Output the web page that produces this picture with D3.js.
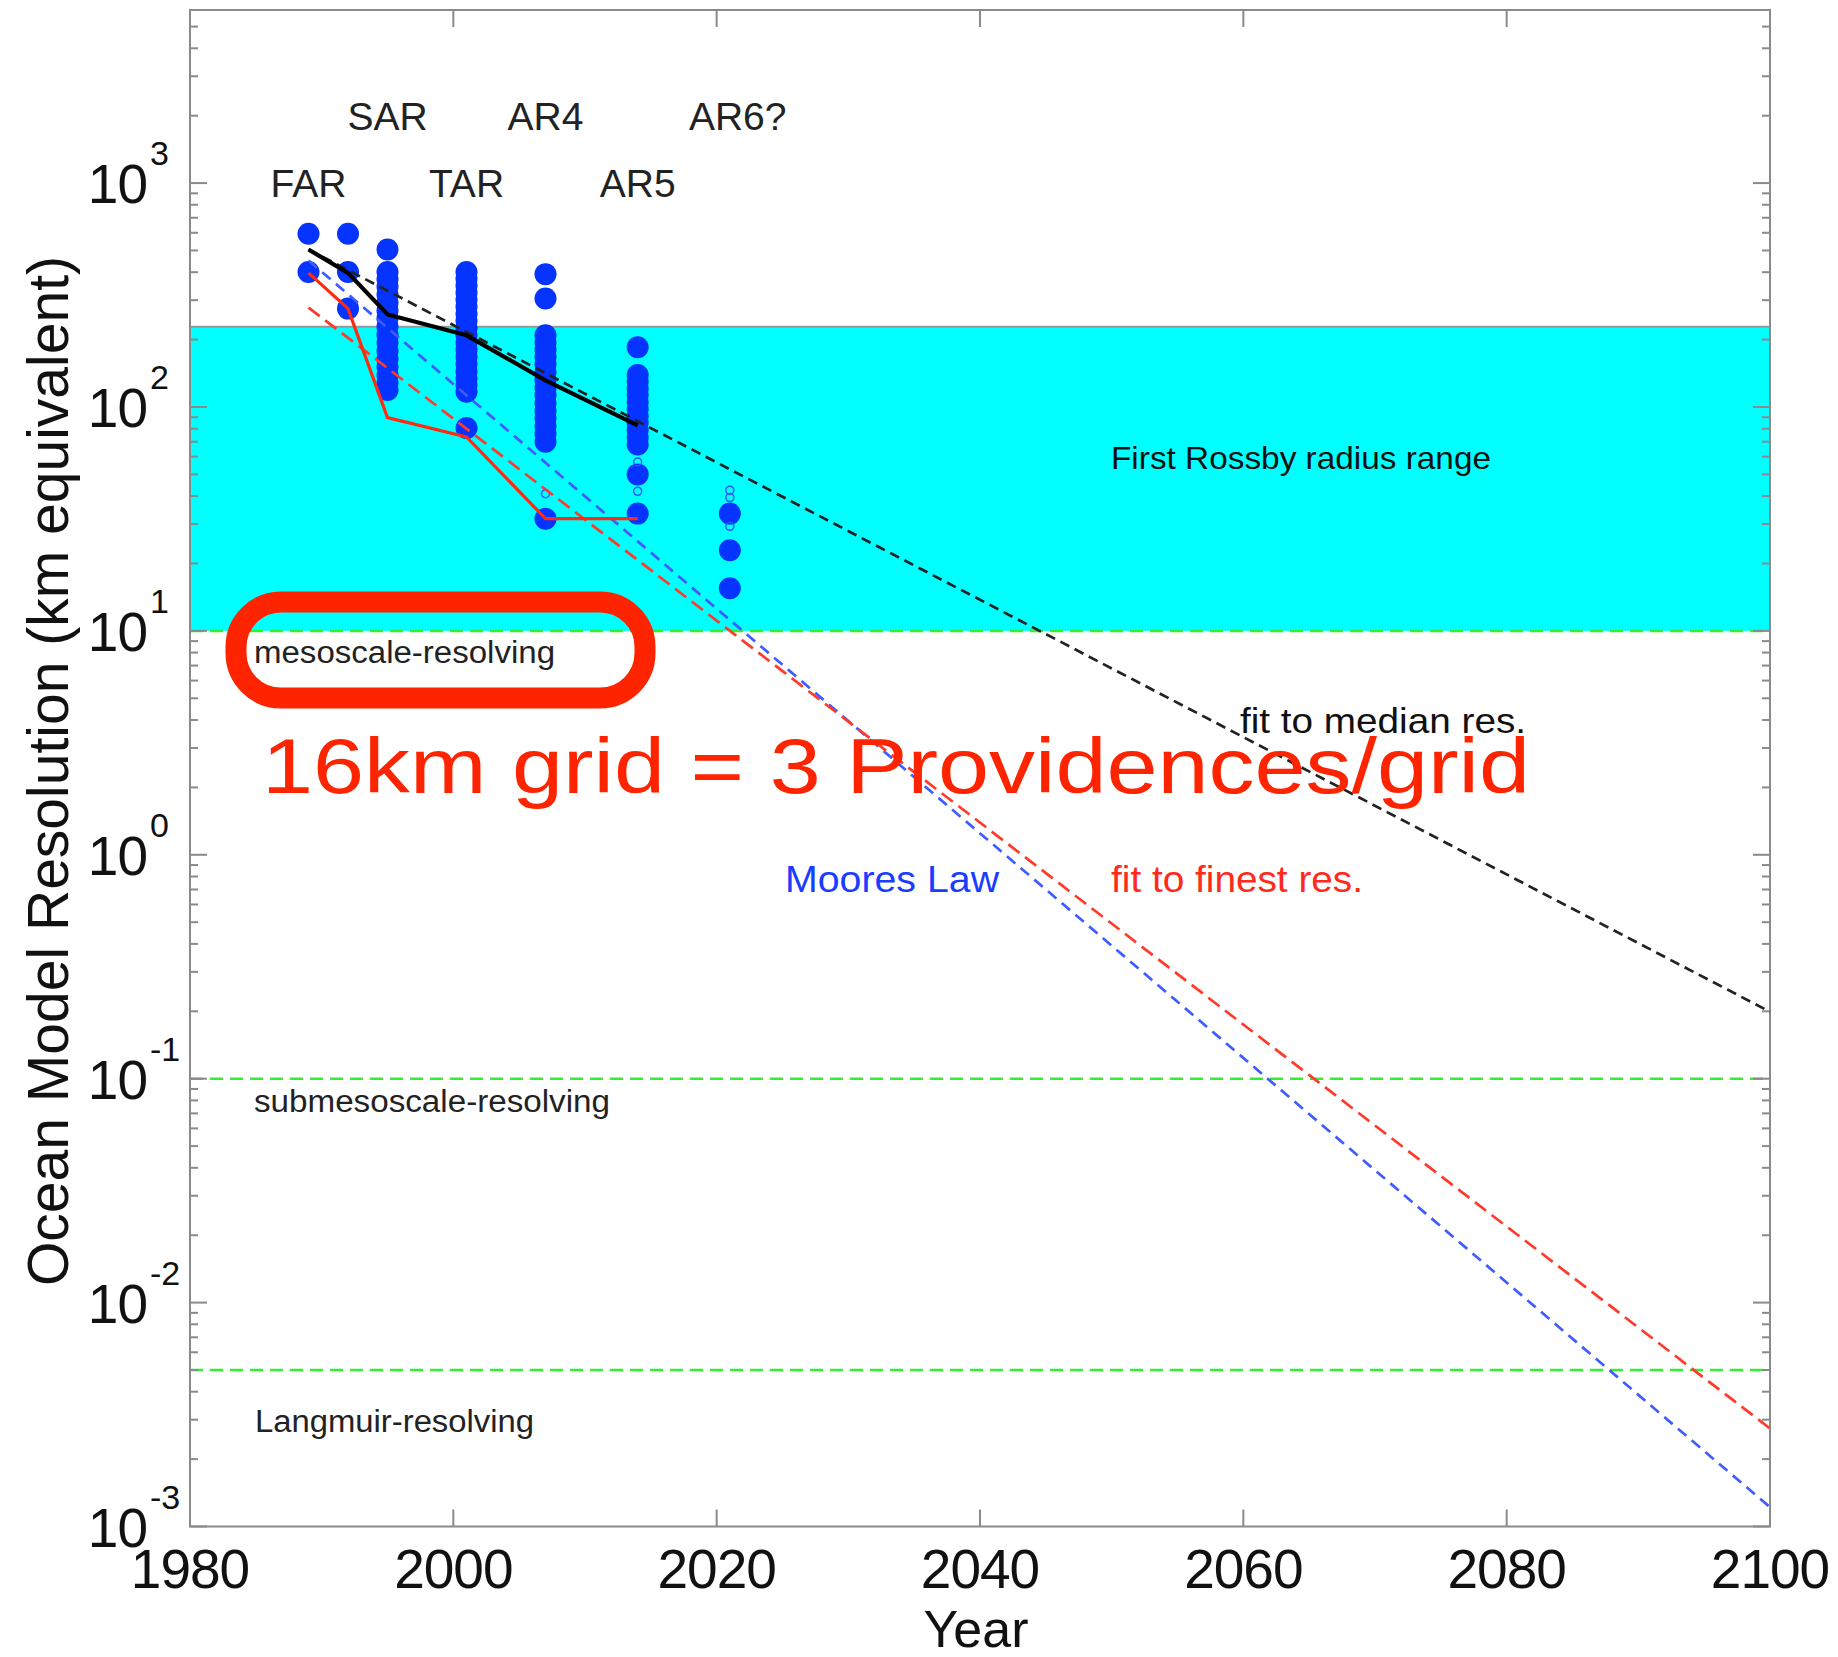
<!DOCTYPE html>
<html>
<head>
<meta charset="utf-8">
<script src="https://cdn.jsdelivr.net/npm/d3@7"></script>
<style>
  html, body { margin: 0; padding: 0; background: #fff; }
  svg { display: block; }
  text { font-family: "Liberation Sans", Arial, Helvetica, sans-serif; }
</style>
</head>
<body>
<svg id="chart" width="1838" height="1657"></svg>
<script>
// ---------------- DATA ----------------
const xTicks = [1980, 2000, 2020, 2040, 2060, 2080, 2100];
const yMajorTicks = [1e-3, 1e-2, 1e-1, 1e0, 1e1, 1e2, 1e3];
const yTickExponents = ["-3", "-2", "-1", "0", "1", "2", "3"];

const reportNames = ["FAR", "SAR", "TAR", "AR4", "AR5", "AR6?"];
const reportYears = [1989, 1995, 2001, 2007, 2014, 2021.6];
const reportRow = [0, 1, 0, 1, 0, 1];   // 0 = lower row, 1 = upper row

// model resolutions (km) per year (filled dots)
const modelYears = [1989, 1992, 1995, 2001, 2007, 2014, 2021];
const modelRes = [
  [594, 401],
  [594, 401, 275],
  [505, 401, 372, 345, 318, 293, 270, 249, 229, 211, 194, 178, 164, 151, 139, 128, 119],
  [401, 374, 348, 324, 301, 280, 260, 242, 225, 209, 194, 180, 167, 155, 144, 134, 125, 117, 80.5],
  [392, 305, 209, 194, 180, 167, 155, 143, 132, 122, 113, 104, 96, 89, 82, 76, 70, 31.7],
  [185, 139, 130, 121, 113, 105, 98, 91, 85, 79, 73, 68, 50, 33.4],
  [33.4, 22.9, 15.5]
];
// small open circles
const openRes = [
  [], [], [], [], [41], [56.8, 42], [42.5, 39.4, 29.3]
];

// median and finest resolution per assessment
const lineYears = [1989, 1992, 1995, 2001, 2007, 2014];
const medianRes = [505, 397, 259, 209, 131.6, 82.8];
const finestRes = [397, 275, 89.7, 73.5, 31.7, 31.7];

// fits
const fitYears = [1989, 2100];
const fitMedian = [505, 0.199];
const fitFinest = [278, 0.00274];
const fitMoore = [451, 0.00122];

// reference scales
const rossbyRange = [10, 228];
const regimeLevels = [10, 0.1, 0.005];
const regimeNames = ["mesoscale-resolving", "submesoscale-resolving", "Langmuir-resolving"];

// ---------------- CHART ----------------
const W = 1838, H = 1657;
const L = 190, R = 1770, T = 10, B = 1526.5;
const svg = d3.select("#chart");
svg.append("rect").attr("width", W).attr("height", H).attr("fill", "#fff");

const x = d3.scaleLinear().domain([1980, 2100]).range([L, R]);
const y = d3.scaleLog().domain([1e-3, 5930]).range([B, T]);

const frameColor = "#8a8a8a";

// Rossby band
svg.append("rect")
  .attr("x", L).attr("width", R - L)
  .attr("y", y(rossbyRange[1])).attr("height", y(rossbyRange[0]) - y(rossbyRange[1]))
  .attr("fill", "#00ffff");
svg.append("line")
  .attr("x1", L).attr("x2", R)
  .attr("y1", y(rossbyRange[1])).attr("y2", y(rossbyRange[1]))
  .attr("stroke", "#999").attr("stroke-width", 2);

// regime lines
regimeLevels.forEach(v => {
  svg.append("line")
    .attr("x1", L).attr("x2", R)
    .attr("y1", y(v)).attr("y2", y(v))
    .attr("stroke", "#33ee33").attr("stroke-width", 2.5)
    .attr("stroke-dasharray", "13,7");
});

// frame + ticks
const g = svg.append("g");
g.append("rect").attr("x", L).attr("y", T).attr("width", R - L).attr("height", B - T)
  .attr("fill", "none").attr("stroke", frameColor).attr("stroke-width", 2);

xTicks.forEach(t => {
  const px = x(t);
  g.append("line").attr("x1", px).attr("x2", px).attr("y1", B).attr("y2", B - 17)
    .attr("stroke", frameColor).attr("stroke-width", 2);
  g.append("line").attr("x1", px).attr("x2", px).attr("y1", T).attr("y2", T + 17)
    .attr("stroke", frameColor).attr("stroke-width", 2);
  g.append("text").attr("x", px).attr("y", 1588)
    .attr("text-anchor", "middle").attr("font-size", 55).attr("fill", "#111")
    .attr("letter-spacing", -1)
    .text(t);
});

const allYTicks = y.ticks(100).filter(v => v >= 1e-3 && v <= 5930);
allYTicks.forEach(v => {
  const py = y(v);
  const major = yMajorTicks.some(m => Math.abs(Math.log10(m) - Math.log10(v)) < 1e-6);
  const len = major ? 17 : 8;
  g.append("line").attr("x1", L).attr("x2", L + len).attr("y1", py).attr("y2", py)
    .attr("stroke", frameColor).attr("stroke-width", 2);
  g.append("line").attr("x1", R).attr("x2", R - len).attr("y1", py).attr("y2", py)
    .attr("stroke", frameColor).attr("stroke-width", 2);
});

yMajorTicks.forEach((v, i) => {
  const py = y(v);
  g.append("text").attr("x", 147).attr("y", py + 20)
    .attr("text-anchor", "end").attr("font-size", 55).attr("fill", "#111")
    .attr("letter-spacing", -1)
    .text("10");
  g.append("text").attr("x", 150).attr("y", py - 18)
    .attr("text-anchor", "start").attr("font-size", 34).attr("fill", "#111")
    .text(yTickExponents[i]);
});

// axis titles
svg.append("text")
  .attr("transform", `translate(68,${771}) rotate(-90)`)
  .attr("text-anchor", "middle").attr("font-size", 58).attr("fill", "#111")
  .attr("textLength", 1030).attr("lengthAdjust", "spacingAndGlyphs")
  .text("Ocean Model Resolution (km equivalent)");
svg.append("text")
  .attr("x", 976).attr("y", 1647)
  .attr("text-anchor", "middle").attr("font-size", 52).attr("fill", "#111")
  .text("Year");

// report labels
reportNames.forEach((n, i) => {
  svg.append("text")
    .attr("x", x(reportYears[i]))
    .attr("y", reportRow[i] ? 130 : 197)
    .attr("text-anchor", "middle").attr("font-size", 39).attr("fill", "#222")
    .text(n);
});

// dots
const dots = svg.append("g");
modelYears.forEach((yr, i) => {
  modelRes[i].forEach(v => {
    dots.append("circle").attr("cx", x(yr)).attr("cy", y(v)).attr("r", 11)
      .attr("fill", "#0533ff");
  });
  openRes[i].forEach(v => {
    dots.append("circle").attr("cx", x(yr)).attr("cy", y(v)).attr("r", 4)
      .attr("fill", "none").attr("stroke", "#2a55ff").attr("stroke-width", 1.5);
  });
});

// fit lines
const lineGen = d3.line().x(d => x(d[0])).y(d => y(d[1]));
function fitLine(vals, color, dash) {
  svg.append("path")
    .datum(fitYears.map((yr, i) => [yr, vals[i]]))
    .attr("d", lineGen)
    .attr("fill", "none").attr("stroke", color).attr("stroke-width", 2.7)
    .attr("stroke-dasharray", dash);
}
fitLine(fitMoore, "#3f5cff", "11,7");
fitLine(fitFinest, "#ff3a2a", "14,7");
fitLine(fitMedian, "#222", "10,6");

// solid median and finest lines
svg.append("path")
  .datum(lineYears.map((yr, i) => [yr, finestRes[i]]))
  .attr("d", lineGen)
  .attr("fill", "none").attr("stroke", "#ff2a10").attr("stroke-width", 3.2);
svg.append("path")
  .datum(lineYears.map((yr, i) => [yr, medianRes[i]]))
  .attr("d", lineGen)
  .attr("fill", "none").attr("stroke", "#000").attr("stroke-width", 4.2);

// annotations
svg.append("text").attr("x", 1111).attr("y", 469)
  .attr("font-size", 32).attr("fill", "#111")
  .attr("textLength", 380).attr("lengthAdjust", "spacingAndGlyphs")
  .text("First Rossby radius range");

const regimeText = [
  { x: 254, y: 663, w: 301 },
  { x: 254, y: 1112, w: 356 },
  { x: 255, y: 1432, w: 279 }
];
regimeNames.forEach((n, i) => {
  svg.append("text").attr("x", regimeText[i].x).attr("y", regimeText[i].y)
    .attr("font-size", 31).attr("fill", "#222")
    .attr("textLength", regimeText[i].w).attr("lengthAdjust", "spacingAndGlyphs")
    .text(n);
});

svg.append("text").attr("x", 1240).attr("y", 733)
  .attr("font-size", 35).attr("fill", "#111")
  .attr("textLength", 286).attr("lengthAdjust", "spacingAndGlyphs")
  .text("fit to median res.");
svg.append("text").attr("x", 785).attr("y", 892)
  .attr("font-size", 37).attr("fill", "#1a3cff")
  .attr("textLength", 214).attr("lengthAdjust", "spacingAndGlyphs")
  .text("Moores Law");
svg.append("text").attr("x", 1111).attr("y", 892)
  .attr("font-size", 37).attr("fill", "#ff2a1a")
  .attr("textLength", 252).attr("lengthAdjust", "spacingAndGlyphs")
  .text("fit to finest res.");

// red highlight
svg.append("rect")
  .attr("x", 236).attr("y", 602).attr("width", 409).attr("height", 96)
  .attr("rx", 45).attr("ry", 45)
  .attr("fill", "none").attr("stroke", "#ff2400").attr("stroke-width", 21);
svg.append("text").attr("x", 262).attr("y", 793)
  .attr("font-family", "'Comic Sans MS', 'DejaVu Sans', sans-serif")
  .attr("font-size", 78).attr("fill", "#ff2400")
  .attr("textLength", 1268).attr("lengthAdjust", "spacingAndGlyphs")
  .text("16km grid = 3 Providences/grid");
</script>
</body>
</html>
